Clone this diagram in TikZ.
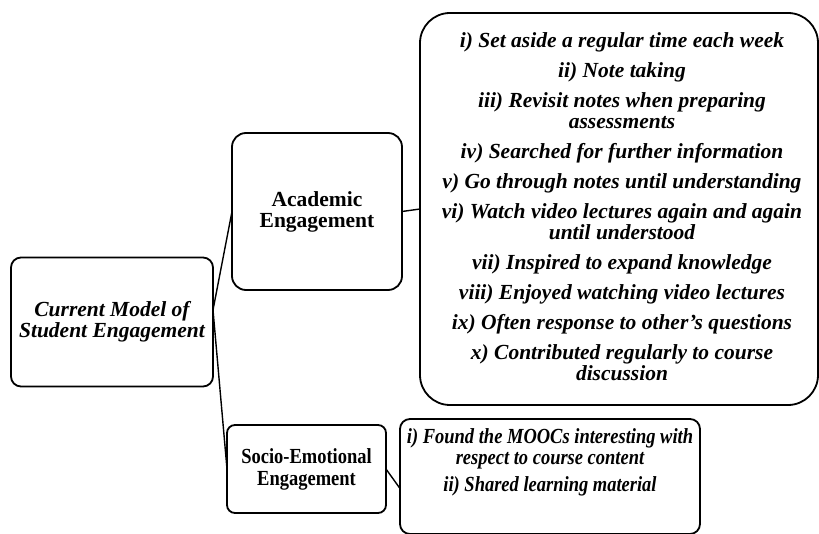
\documentclass[tikz,border=0pt]{standalone}
\usepackage{fontspec}
\setmainfont{Liberation Serif}
\newfontfamily\narrowserif[FakeStretch=0.86]{Liberation Serif}
\begin{document}
\begin{tikzpicture}[x=1pt,y=-1pt,
  every node/.style={inner sep=2pt, outer sep=0pt},
  box/.style={draw, line width=1.8pt, align=center},
  conn/.style={line width=1.4pt},
  bi/.style={font=\fontsize{21.5}{21}\selectfont\bfseries\itshape},
  bu/.style={font=\fontsize{21.5}{21}\selectfont\bfseries},
  bis/.style={font=\narrowserif\fontsize{21.5}{21}\selectfont\bfseries\itshape},
  bus/.style={font=\narrowserif\fontsize{21.5}{22}\selectfont\bfseries}]
\useasboundingbox (0,0) rectangle (819,534);
\node[box, bi, rounded corners=10pt, minimum width=202pt, minimum height=129pt] (root) at (112,322) {Current Model of\\Student Engagement};
\node[box, bu, rounded corners=14pt, minimum width=170pt, minimum height=157pt] (acad) at (317,211.5) {Academic\\Engagement};
\node[box, bus, rounded corners=8pt, minimum width=159pt, minimum height=88pt] (socio) at (306.5,469) {Socio-Emotional\\Engagement};
\node[box, rounded corners=30pt, minimum width=398pt, minimum height=392pt] (list) at (619,209) {};
\node[bi, align=center] (listtext) at (622,207) {%
i) Set aside a regular time each week\\[9pt]
ii) Note taking\\[9pt]
iii) Revisit notes when preparing\\assessments\\[9pt]
iv) Searched for further information\\[9pt]
v) Go through notes until understanding\\[9pt]
vi) Watch video lectures again and again\\until understood\\[9pt]
vii) Inspired to expand knowledge\\[9pt]
viii) Enjoyed watching video lectures\\[9pt]
ix) Often response to other’s questions\\[9pt]
x) Contributed regularly to course\\discussion};
\node[box, rounded corners=10pt, minimum width=300pt, minimum height=115pt] (soclist) at (550,476.5) {};
\node[bis, align=center, anchor=north] (soctext) at ([yshift=-8pt]soclist.north) {%
i) Found the MOOCs interesting with\\respect to course content\\[6pt]
ii) Shared learning material};
\draw[conn] ([yshift=12pt]root.east) -- (acad.west);
\draw[conn] ([yshift=12pt]root.east) -- (socio.west);
\draw[conn] (acad.east) -- (list.west);
\draw[conn] (socio.east) -- ([yshift=-12pt]soclist.west);
\end{tikzpicture}
\end{document}
